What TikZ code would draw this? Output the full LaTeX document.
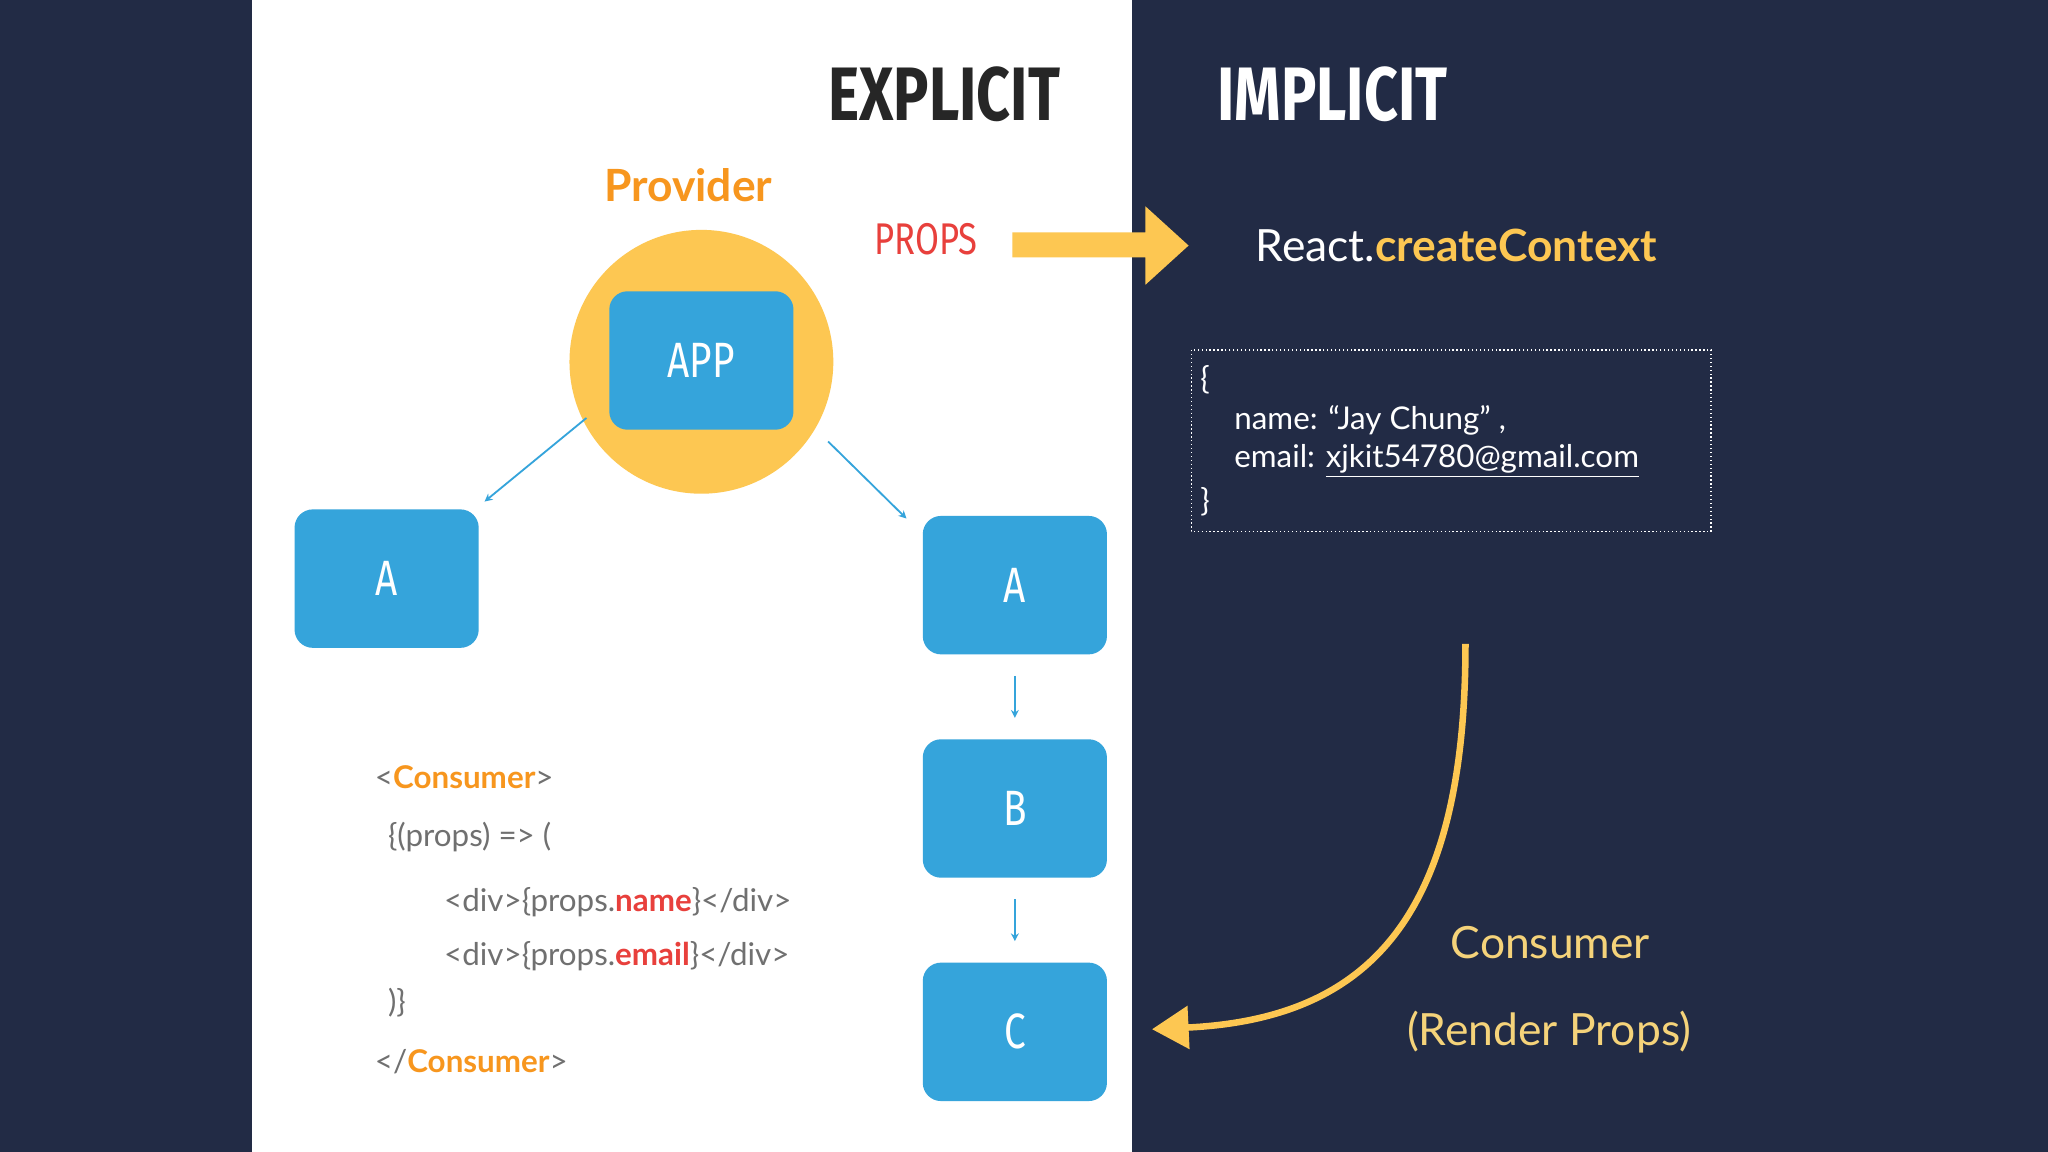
\documentclass[tikz,border=0pt]{standalone}
\usepackage{fontspec}
\setmainfont{Lato}
\newfontfamily\cond{Fira Sans}[FakeStretch=0.78]
\usetikzlibrary{arrows.meta}
\definecolor{navy}{HTML}{222B45}
\definecolor{yel}{HTML}{FDC752}
\definecolor{blu}{HTML}{35A4DB}
\definecolor{org}{HTML}{F7961E}
\definecolor{rd}{HTML}{E8403C}
\definecolor{gry}{HTML}{707070}
\definecolor{lyel}{HTML}{F5D37A}
\begin{document}
\begin{tikzpicture}[x=0.5pt,y=-0.5pt,
  box/.style={draw=none,fill=blu,rounded corners=7pt,minimum width=70.5pt,minimum height=53pt,text=white,font=\cond\fontsize{19}{19}\selectfont},
  thin/.style={draw=blu,line width=0.7pt,-{Stealth[length=3pt,width=3pt]}},
  code/.style={anchor=west,text=gry,font=\fontsize{12}{12}\selectfont}]
\fill[navy] (0,0) rectangle (1568,882);
\fill[white] (193,0) rectangle (867,882);
\useasboundingbox (0,0) rectangle (1568,882);
\node[font=\cond\bfseries\fontsize{29}{29}\selectfont,text=black!85] (ex) at (723,72) {EXPLICIT};
\node[font=\cond\bfseries\fontsize{29}{29}\selectfont,text=white] (im) at (1020,72) {IMPLICIT};
\node[font=\bfseries\fontsize{17}{17}\selectfont,text=org] (prov) at (527,142) {Provider};
\fill[yel] (537,277) circle (50.5pt);
\node[box] (app) at (537,276) {APP};
\node[box] (al) at (296,443) {A};
\node[box] (ar) at (777,448) {A};
\node[box] (b) at (777,619) {B};
\node[box] (c) at (777,790) {C};
\coordinate (s1) at (449,320); \coordinate (e1) at (371,384);
\coordinate (s2) at (634,338); \coordinate (e2) at (694,397);
\draw[thin] (s1) -- (e1);
\draw[thin] (s2) -- (e2);
\draw[thin] ([yshift=-8pt]ar.south) -- ([yshift=8pt]b.north);
\draw[thin] ([yshift=-8pt]b.south) -- ([yshift=8pt]c.north);
\node[font=\cond\fontsize{17}{17}\selectfont,text=rd] (props) at (709,183) {PROPS};
\fill[yel] (775,178) -- (877,178) -- (877,158) -- (910,188) -- (877,218) -- (877,197) -- (775,197) -- cycle;
\node[font=\fontsize{17}{17}\selectfont,text=white] (rc) at (1115,188) {React.\textcolor{yel}{\bfseries createContext}};
\draw[white,line width=0.5pt,densely dotted] (912,268) rectangle (1310,407);
\node[anchor=west,text=white,font=\fontsize{12}{12}\selectfont] (t1) at (912,291) {\{};
\node[anchor=west,text=white,font=\fontsize{12}{12}\selectfont] (t2) at (938,322) {name: “Jay Chung” ,};
\node[anchor=west,text=white,font=\fontsize{12}{12}\selectfont] (t3) at (938,353) {email: \underline{xjkit54780@gmail.com}};
\node[anchor=west,text=white,font=\fontsize{12}{12}\selectfont] (t4) at (912,384) {\}};
\coordinate (cs) at (1122,493); \coordinate (ce) at (882,788);
\draw[yel,line width=2.5pt,-{Triangle[length=14pt,width=16pt]}] (cs) .. controls (1122,700) and (1050,780) .. (ce);
\node[font=\fontsize{17}{17}\selectfont,text=lyel] (cons) at (1187,722) {Consumer};
\node[font=\fontsize{17}{17}\selectfont,text=lyel] (rp) at (1186,790) {(Render Props)};
\node[code] (c1) at (280,595) {<\textcolor{org}{\bfseries Consumer}>};
\node[code] (c2) at (290,641) {\{(props) => (};
\node[code] (c3) at (333,691) {<div>\{props.\textcolor{rd}{\bfseries name}\}</div>};
\node[code] (c4) at (333,732) {<div>\{props.\textcolor{rd}{\bfseries email}\}</div>};
\node[code] (c5) at (290,768) {)\}};
\node[code] (c6) at (280,813) {</\textcolor{org}{\bfseries Consumer}>};
\end{tikzpicture}
\end{document}
